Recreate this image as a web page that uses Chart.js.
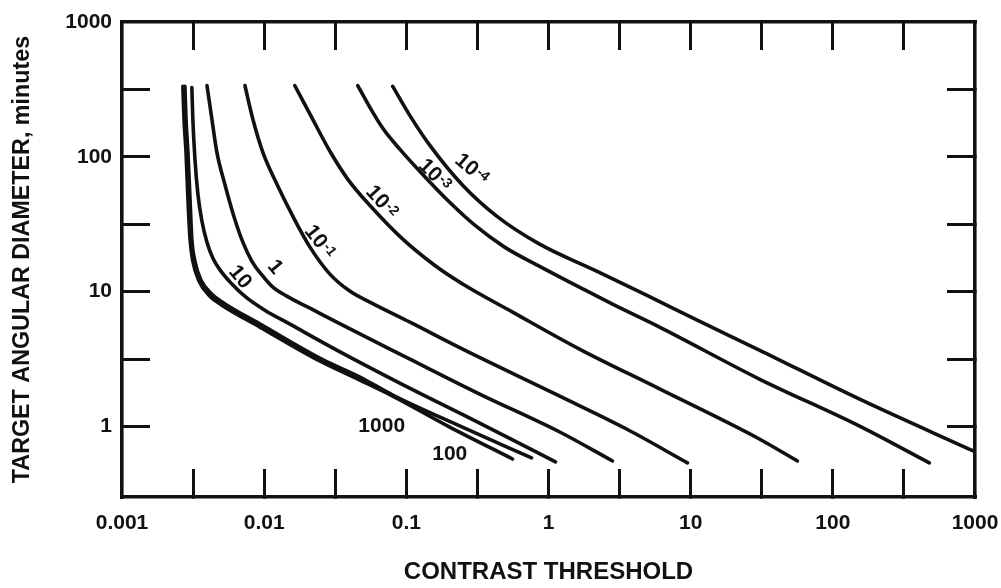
<!DOCTYPE html>
<html>
<head>
<meta charset="utf-8">
<script src="https://cdn.jsdelivr.net/npm/chart.js@4.4.0/dist/chart.umd.min.js"></script>
<style>
  body { margin: 0; background: #fff; }
  #chart-wrap { width: 1001px; height: 588px; }
</style>
</head>
<body>
<div id="chart-wrap"><canvas id="threshold-chart" width="1001" height="588"></canvas></div>
<script>
// Contrast threshold vs target size, one curve per background luminance
const luminances = ["1000", "100", "10", "1", "10^-1", "10^-2", "10^-3", "10^-4"];

const contrast1000 = [0.00268, 0.00273, 0.00282, 0.00291, 0.00301, 0.00315, 0.00348, 0.00415, 0.00504, 0.00933, 0.0246, 0.047, 0.0802, 0.202, 0.559];
const diameter1000 = [333, 190, 108, 48.4, 24.5, 16.8, 12.0, 9.26, 7.94, 5.46, 3.06, 2.21, 1.68, 0.99, 0.574];

const contrast100 = [0.00277, 0.00282, 0.00291, 0.00301, 0.0031, 0.00326, 0.00359, 0.00429, 0.00521, 0.00964, 0.0254, 0.0486, 0.0802, 0.237, 0.761];
const diameter100 = [333, 190, 108, 48.4, 24.5, 16.8, 12.2, 9.58, 8.22, 5.65, 3.16, 2.29, 1.71, 1.01, 0.585];

const contrast10 = [0.0031, 0.00315, 0.00326, 0.00342, 0.00365, 0.00396, 0.00436, 0.00496, 0.00593, 0.00744, 0.0101, 0.0152, 0.0324, 0.0899, 0.328, 1.12];
const diameter10 = [327, 190, 95.8, 52.8, 33.3, 23.3, 17.7, 14.2, 11.4, 9.1, 7.29, 5.74, 3.69, 2.1, 1.06, 0.546];

const contrast1 = [0.00396, 0.00429, 0.00465, 0.00529, 0.00612, 0.00708, 0.0082, 0.00964, 0.0113, 0.0144, 0.021, 0.0324, 0.106, 0.328, 1.2, 2.82];
const diameter1 = [338, 190, 108, 62.6, 36.3, 23.3, 16.8, 13.3, 11.0, 9.26, 7.55, 5.94, 3.16, 1.74, 0.91, 0.555];

const contrastE1 = [0.00732, 0.00833, 0.00979, 0.0123, 0.0159, 0.021, 0.029, 0.04, 0.0571, 0.106, 0.249, 1.2, 3.54, 9.5];
const diameterE1 = [338, 190, 108, 62.6, 36.3, 21.4, 13.5, 10.1, 8.22, 5.94, 3.75, 1.68, 0.958, 0.537];

const contrastE2 = [0.0164, 0.0216, 0.029, 0.0388, 0.0553, 0.0944, 0.158, 0.249, 0.559, 1.65, 6.04, 30.4, 56.3];
const diameterE2 = [338, 196, 110, 68.1, 43.7, 24.5, 15.7, 11.4, 7.05, 3.75, 1.9, 0.808, 0.555];

const contrastE3 = [0.0455, 0.0544, 0.0683, 0.0899, 0.128, 0.192, 0.303, 0.491, 0.866, 1.65, 2.82, 6.04, 30.4, 153, 477];
const diameterE3 = [338, 241, 163, 114, 75.5, 48.4, 31.1, 21.4, 15.4, 10.8, 8.08, 5.46, 2.25, 1.01, 0.537];

const contrastE4 = [0.0802, 0.1057, 0.146, 0.249, 0.432, 0.866, 2.18, 4.89, 11.5, 30.4, 153, 1000];
const diameterE4 = [333, 203, 122, 61.5, 36.3, 22.5, 14.2, 9.42, 6.05, 3.69, 1.6, 0.65];

const contrastSeries = [contrast1000, contrast100, contrast10, contrast1, contrastE1, contrastE2, contrastE3, contrastE4];
const diameterSeries = [diameter1000, diameter100, diameter10, diameter1, diameterE1, diameterE2, diameterE3, diameterE4];

// axis ticks (marks every half decade, labels on the decades)
const xTickValues = [0.001, 0.003162, 0.01, 0.03162, 0.1, 0.3162, 1, 3.162, 10, 31.62, 100, 316.2, 1000];
const xTickLabels = ["0.001", "", "0.01", "", "0.1", "", "1", "", "10", "", "100", "", "1000"];
const yTickValues = [0.3162, 1, 3.162, 10, 31.62, 100, 316.2, 1000];
const yTickLabels = ["", "1", "", "10", "", "100", "", "1000"];

// curve labels: base text, exponent, anchor in data units
const curveLabelText = ["1000", "100", "10", "1", "10", "10", "10", "10"];
const curveLabelExp = ["", "", "", "", "-1", "-2", "-3", "-4"];
const curveLabelX = [0.0671, 0.202, 0.00675, 0.0119, 0.0246, 0.0671, 0.158, 0.288];
const curveLabelY = [1.01, 0.625, 12.8, 15.2, 23.3, 46.0, 72.9, 80.8];

const INK = "#111111";
const FONT = '"Liberation Sans", Arial, Helvetica, sans-serif';
const labelAngles = [0, 0, 50, 50, 52, 48, 45, 40];

Chart.defaults.font.family = FONT;
Chart.defaults.color = INK;

const datasets = luminances.map((name, i) => ({
  label: name,
  data: contrastSeries[i].map((c, k) => ({ x: c, y: diameterSeries[i][k] })),
  borderColor: INK,
  borderWidth: 3.6,
  borderCapStyle: "round",
  borderJoinStyle: "round",
  pointRadius: 0,
  fill: false,
  cubicInterpolationMode: "monotone",
  xAxisID: "x",
  yAxisID: "y",
}));

// short tick marks pointing into the plot; none on the frame corners
function inwardGrid(count) {
  return {
    drawOnChartArea: false,
    drawTicks: true,
    tickLength: -28,
    lineWidth: 3,
    tickWidth: 3,
    color: INK,
    tickColor: (ctx) => (ctx.index === 0 || ctx.index === count - 1 ? "rgba(0,0,0,0)" : INK),
  };
}

const frameBorder = { display: true, width: 3.6, color: INK };

// fixed box sizes so the plot frame lands where the original one is
function fixBox(size) {
  return (scale) => {
    if (scale.isHorizontal()) scale.height = size;
    else scale.width = size;
    scale.paddingTop = 0;
    scale.paddingBottom = 0;
    scale.paddingLeft = 0;
    scale.paddingRight = 0;
  };
}

const curveLabelPlugin = {
  id: "curveLabels",
  afterDatasetsDraw(chart) {
    const { ctx } = chart;
    const xs = chart.scales.x;
    const ys = chart.scales.y;
    ctx.save();
    ctx.fillStyle = INK;
    ctx.textBaseline = "middle";
    ctx.textAlign = "left";
    curveLabelText.forEach((text, i) => {
      const px = xs.getPixelForValue(curveLabelX[i]);
      const py = ys.getPixelForValue(curveLabelY[i]);
      const size = 21;
      const exp = curveLabelExp[i];
      ctx.font = `bold ${size}px ${FONT}`;
      const w = ctx.measureText(text).width;
      ctx.font = `bold 14px ${FONT}`;
      const ew = exp ? ctx.measureText(exp).width + 1 : 0;
      ctx.save();
      ctx.translate(px, py);
      ctx.rotate((labelAngles[i] * Math.PI) / 180);
      const start = -(w + ew) / 2;
      ctx.font = `bold ${size}px ${FONT}`;
      ctx.fillText(text, start, 0);
      if (exp) {
        ctx.font = `bold 14px ${FONT}`;
        ctx.fillText(exp, start + w + 1, -3);
      }
      ctx.restore();
    });
    ctx.restore();
  },
};

new Chart(document.getElementById("threshold-chart"), {
  type: "line",
  data: { datasets },
  options: {
    responsive: false,
    animation: false,
    devicePixelRatio: 1,
    layout: { padding: 0 },
    plugins: {
      legend: { display: false },
      tooltip: { enabled: false },
    },
    scales: {
      x: {
        type: "logarithmic",
        position: "bottom",
        min: 0.001,
        max: 1000,
        afterBuildTicks: (scale) => {
          scale.ticks = xTickValues.map((v) => ({ value: v }));
        },
        afterFit: fixBox(91),
        ticks: {
          autoSkip: false,
          maxRotation: 0,
          minRotation: 0,
          padding: 42,
          font: { size: 21, weight: "bold" },
          color: INK,
          callback: (value, index) => xTickLabels[index],
        },
        grid: inwardGrid(xTickValues.length),
        border: frameBorder,
        title: {
          display: true,
          text: "CONTRAST THRESHOLD",
          font: { size: 24, weight: "bold" },
          color: INK,
          padding: { top: 0, bottom: 1 },
        },
      },
      y: {
        type: "logarithmic",
        position: "left",
        min: 0.3162,
        max: 1000,
        afterBuildTicks: (scale) => {
          scale.ticks = yTickValues.map((v) => ({ value: v }));
        },
        afterFit: fixBox(122),
        ticks: {
          autoSkip: false,
          padding: 38,
          font: { size: 21, weight: "bold" },
          color: INK,
          callback: (value, index) => yTickLabels[index],
        },
        grid: inwardGrid(yTickValues.length),
        border: frameBorder,
        title: {
          display: true,
          text: "TARGET ANGULAR DIAMETER, minutes",
          font: { size: 23.3, weight: "bold" },
          color: INK,
          padding: { top: 9, bottom: 0 },
        },
      },
      x2: {
        type: "logarithmic",
        position: "top",
        min: 0.001,
        max: 1000,
        afterBuildTicks: (scale) => {
          scale.ticks = xTickValues.map((v) => ({ value: v }));
        },
        afterFit: fixBox(22),
        ticks: { display: false },
        grid: inwardGrid(xTickValues.length),
        border: frameBorder,
      },
      y2: {
        type: "logarithmic",
        position: "right",
        min: 0.3162,
        max: 1000,
        afterBuildTicks: (scale) => {
          scale.ticks = yTickValues.map((v) => ({ value: v }));
        },
        afterFit: fixBox(26),
        ticks: { display: false },
        grid: inwardGrid(yTickValues.length),
        border: frameBorder,
      },
    },
  },
  plugins: [curveLabelPlugin],
});
</script>
</body>
</html>
